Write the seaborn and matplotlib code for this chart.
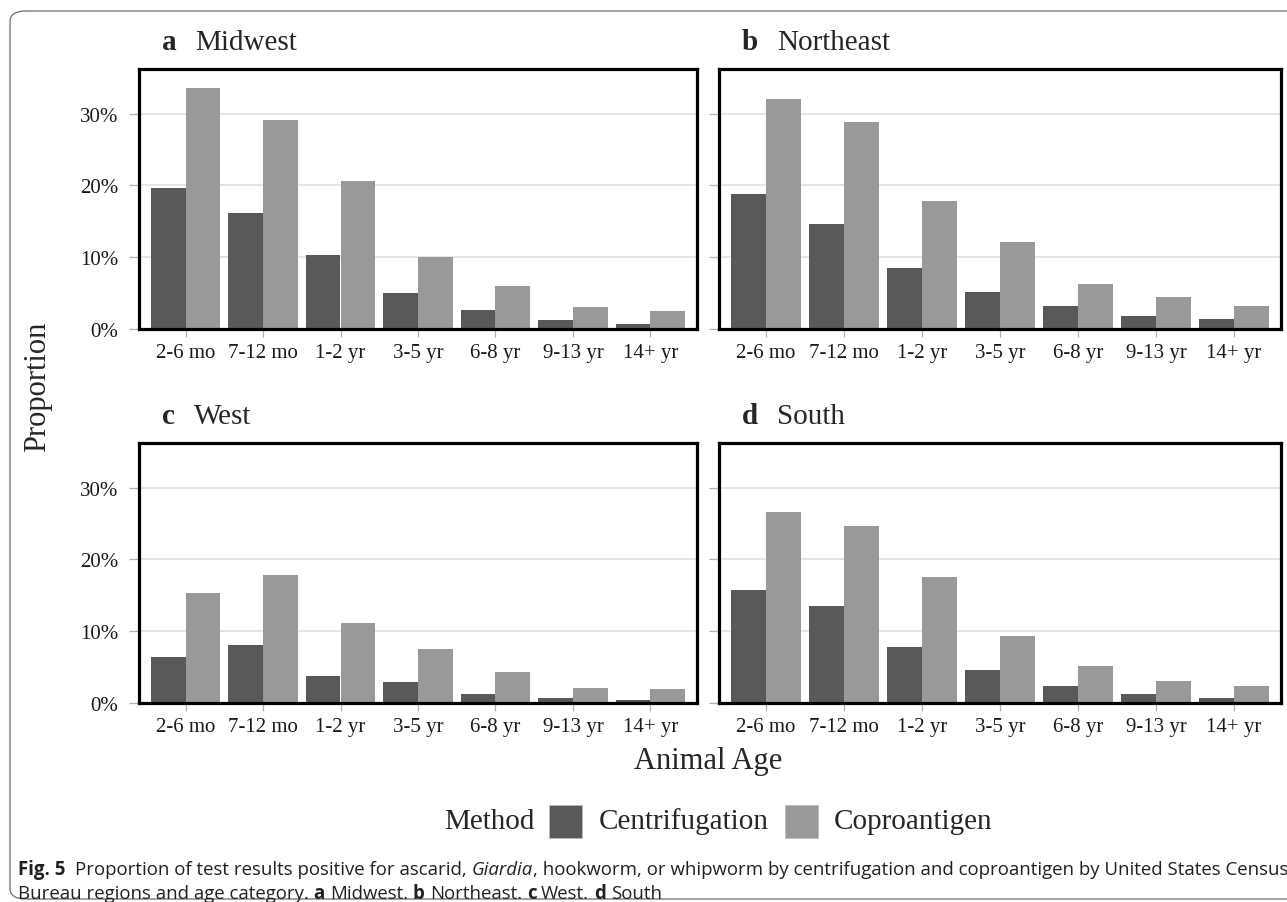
import matplotlib
matplotlib.use("Agg")
import matplotlib.pyplot as plt
from matplotlib.patches import Rectangle, FancyBboxPatch
from matplotlib import font_manager
import numpy as np
import pandas as pd
import seaborn as sns

# ---- data (percent positive) ----
ages = ["2-6 mo", "7-12 mo", "1-2 yr", "3-5 yr", "6-8 yr", "9-13 yr", "14+ yr"]
methods = ["Centrifugation", "Coproantigen"]
regions = ["Midwest", "Northeast", "West", "South"]
panel_letters = ["a", "b", "c", "d"]

midwest_centrifugation = [19.7, 16.2, 10.3, 4.95, 2.6, 1.2, 0.74]
midwest_coproantigen = [33.6, 29.1, 20.6, 10.05, 6.0, 3.06, 2.45]
northeast_centrifugation = [18.75, 14.6, 8.5, 5.2, 3.15, 1.8, 1.34]
northeast_coproantigen = [32.0, 28.8, 17.8, 12.1, 6.3, 4.4, 3.2]
west_centrifugation = [6.47, 8.1, 3.8, 2.9, 1.3, 0.74, 0.42]
west_coproantigen = [15.26, 17.8, 11.16, 7.5, 4.37, 2.1, 1.9]
south_centrifugation = [15.7, 13.5, 7.86, 4.56, 2.33, 1.26, 0.65]
south_coproantigen = [26.65, 24.6, 17.5, 9.3, 5.2, 3.1, 2.3]

y_ticks = [0.0, 0.1, 0.2, 0.3]
y_tick_labels = ["0%", "10%", "20%", "30%"]

series = {
    "Midwest": (midwest_centrifugation, midwest_coproantigen),
    "Northeast": (northeast_centrifugation, northeast_coproantigen),
    "West": (west_centrifugation, west_coproantigen),
    "South": (south_centrifugation, south_coproantigen),
}

rows = []
for reg in regions:
    for meth, vals in zip(methods, series[reg]):
        for age, v in zip(ages, vals):
            rows.append({"region": reg, "method": meth, "age": age, "proportion": v / 100.0})
df = pd.DataFrame(rows)

# ---- style ----
sns.set_theme(style="white")
plt.rcParams["font.family"] = ["Liberation Serif", "DejaVu Serif"]

palette = {"Centrifugation": "#595959", "Coproantigen": "#999999"}

W, H = 1287, 903
fig = plt.figure(figsize=(W / 100, H / 100), dpi=100)
fig.patch.set_facecolor("white")


def px_axes(left, right, top, bottom):
    return fig.add_axes([left / W, 1 - bottom / H, (right - left) / W, (bottom - top) / H])


panel_boxes = [
    (139, 697, 70, 330),
    (719, 1281, 70, 330),
    (139, 697, 444, 704),
    (719, 1281, 444, 704),
]

renderer = fig.canvas.get_renderer()


def text_width(t):
    return t.get_window_extent(renderer).width


for i, (reg, letter, box) in enumerate(zip(regions, panel_letters, panel_boxes)):
    ax = px_axes(*box)
    sub = df[df["region"] == reg]
    sns.barplot(
        data=sub, x="age", y="proportion", hue="method", order=ages,
        hue_order=methods, palette=palette, width=0.9, saturation=1,
        errorbar=None, legend=False, ax=ax, edgecolor="none", linewidth=0,
    )
    ax.set_xlim(-0.6, 6.6)
    ax.set_ylim(0, 0.362)
    ax.set_yticks(y_ticks)
    ax.set_xlabel("")
    ax.set_ylabel("")
    ax.set_axisbelow(True)
    ax.yaxis.grid(True, color="#dedede", linewidth=1.1)
    ax.xaxis.grid(False)
    for sp in ax.spines.values():
        sp.set_visible(True)
        sp.set_color("black")
        sp.set_linewidth(2.3)
        sp.set_zorder(5)
    ax.tick_params(axis="x", length=6, width=0.9, color="#b0b0b0", pad=4,
                   labelsize=15, labelcolor="#1a1a1a", bottom=True, direction="out")
    ax.tick_params(axis="y", length=7, width=0.9, color="#b0b0b0", pad=8,
                   labelsize=15, labelcolor="#1a1a1a", left=True, direction="out")
    if box[0] < 300:
        ax.set_yticklabels(y_tick_labels)
    else:
        ax.set_yticklabels([])

    # panel title: bold letter + region name
    tx = box[0] + 23
    ty = 1 - (box[2] - 20) / H
    t1 = fig.text(tx / W, ty, letter, fontsize=21, fontweight="bold", va="baseline", ha="left")
    w1 = text_width(t1)
    fig.text((tx + w1 + 19) / W, ty, reg, fontsize=21, va="baseline", ha="left")

# shared axis labels
fig.text(38 / W, 1 - 387 / H, "Proportion", rotation=90, fontsize=22,
         ha="center", va="center")
fig.text(708 / W, 1 - 762 / H, "Animal Age", fontsize=22, ha="center", va="center")

# legend row
leg_y = 822
fig.text(444 / W, 1 - leg_y / H, "Method", fontsize=21, ha="left", va="center")
for x0, meth, tx in [(549, "Centrifugation", 599), (785, "Coproantigen", 834)]:
    fig.patches.append(Rectangle((x0 / W, 1 - (leg_y + 16.5) / H), 33 / W, 33 / H,
                                 transform=fig.transFigure, facecolor=palette[meth],
                                 edgecolor="#bbbbbb", linewidth=0.6))
    fig.text(tx / W, 1 - leg_y / H, meth, fontsize=21, ha="left", va="center")

# rounded outer frame
fig.patches.append(FancyBboxPatch((10 / W, 1 - 900 / H), 1300 / W, 888 / H,
                                  boxstyle="round,pad=0,rounding_size=0.012",
                                  transform=fig.transFigure, facecolor="none",
                                  edgecolor="#7a7a7a", linewidth=1.0, clip_on=False))

# caption
cap_family = None
for fam in ["Liberation Sans Narrow", "Open Sans", "Noto Sans"]:
    try:
        font_manager.findfont(font_manager.FontProperties(family=fam), fallback_to_default=False)
        cap_family = fam
        break
    except Exception:
        continue
if cap_family is None:
    cap_family = "DejaVu Sans"


def draw_runs(x_px, base_px, runs, size):
    x = x_px
    probe_a = fig.text(0, 0, "xx", fontsize=size, family=cap_family)
    probe_b = fig.text(0, 0, "x x", fontsize=size, family=cap_family)
    space = text_width(probe_b) - text_width(probe_a)
    probe_a.remove()
    probe_b.remove()
    for txt, weight, style, spaces_after in runs:
        t = fig.text(x / W, 1 - base_px / H, txt, fontsize=size, fontweight=weight,
                     fontstyle=style, family=cap_family, va="baseline", ha="left",
                     color="#231f20")
        x += text_width(t) + space * spaces_after
    return x


line1 = [
    ("Fig. 5", "bold", "normal", 2),
    ("Proportion of test results positive for ascarid,", "normal", "normal", 1),
    ("Giardia", "normal", "italic", 0),
    (", hookworm, or whipworm by centrifugation and coproantigen by United States Census",
     "normal", "normal", 0),
]
line2 = [
    ("Bureau regions and age category.", "normal", "normal", 1),
    ("a", "bold", "normal", 1), ("Midwest.", "normal", "normal", 1),
    ("b", "bold", "normal", 1), ("Northeast.", "normal", "normal", 1),
    ("c", "bold", "normal", 1), ("West.", "normal", "normal", 1),
    ("d", "bold", "normal", 1), ("South", "normal", "normal", 0),
]

# fit the first caption line to the page width
size = 13.0
probe = fig.text(0, 0, "".join(r[0] for r in line1) + "   ", fontsize=size, family=cap_family)
wcur = text_width(probe)
probe.remove()
size = size * 1262 / wcur

draw_runs(18, 875, line1, size)
draw_runs(18, 899, line2, size)

fig.savefig("out.png", dpi=100, facecolor="white")
